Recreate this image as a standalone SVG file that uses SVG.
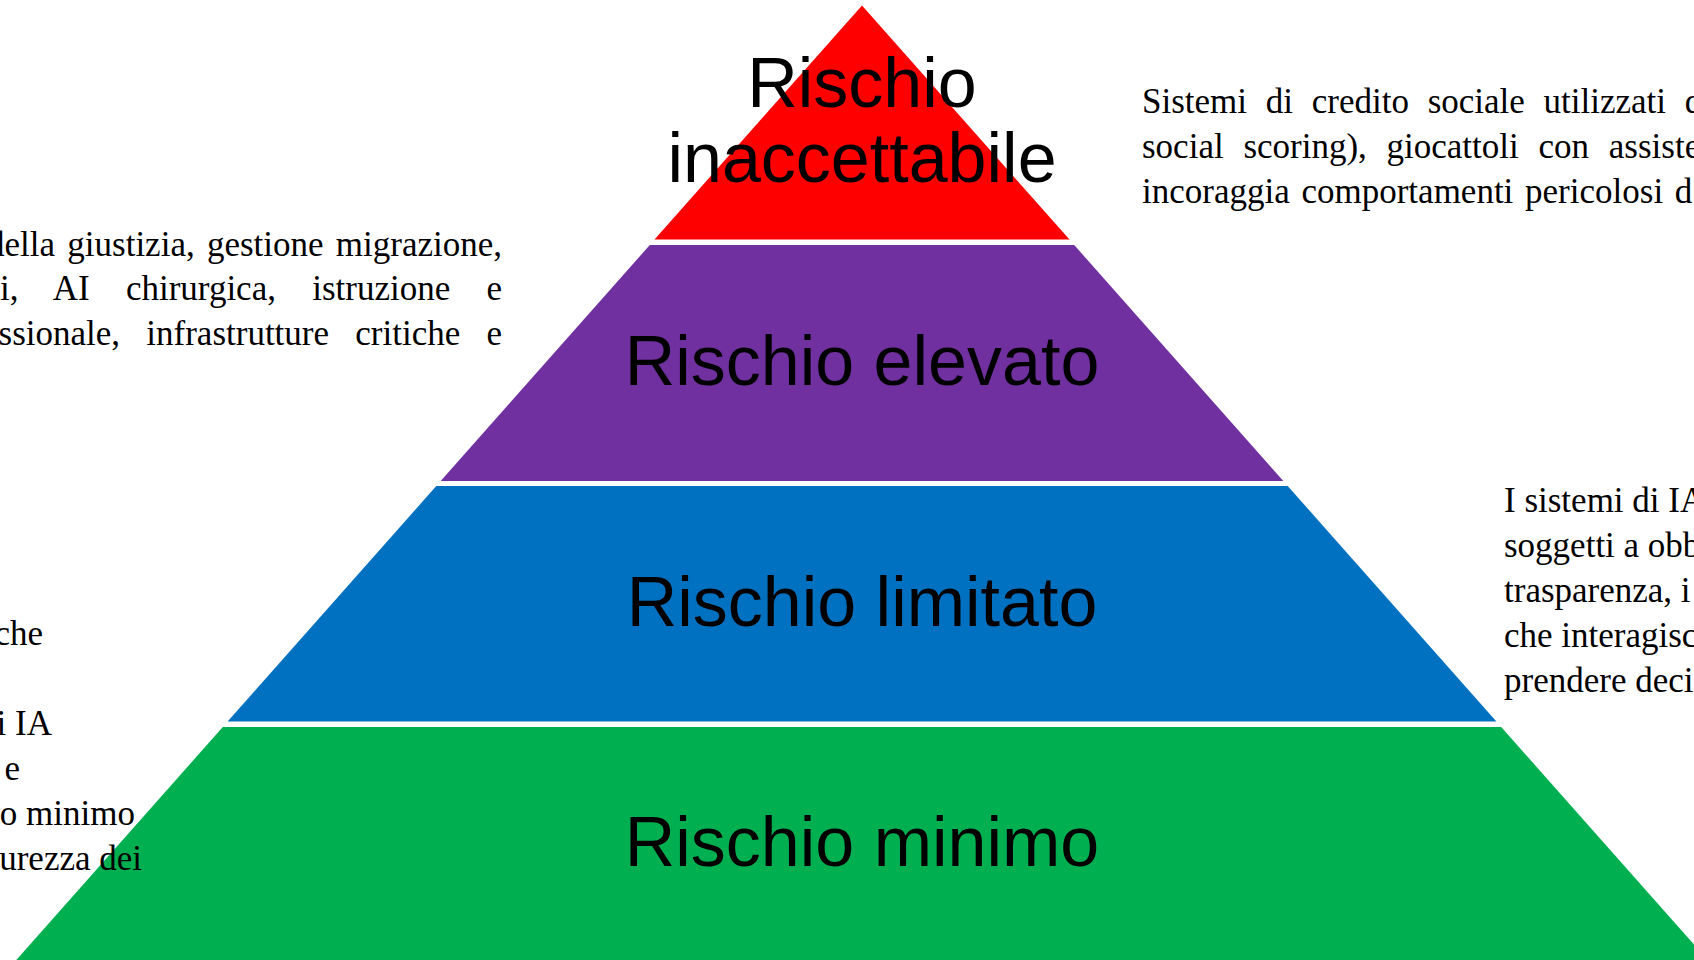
<svg xmlns="http://www.w3.org/2000/svg" width="1694" height="960" viewBox="0 0 1694 960">
<style>
.lbl{font-family:"Liberation Sans",Arial,sans-serif;font-size:70px;fill:#000;text-anchor:middle}
.txt{font-family:"Liberation Serif","Times New Roman",serif;font-size:35px;fill:#000}
.end{text-anchor:end}
</style>
<rect width="1694" height="960" fill="#fff"/>
<g id="pyramid">
<g id="tier-inaccettabile"><polygon points="862,5.5 1069.5,239.5 654.5,239.5" fill="#FF0000"/></g>
<g id="tier-elevato"><polygon points="649.8,245 1074.2,245 1283.3,481 440.7,481" fill="#7030A0"/></g>
<g id="tier-limitato"><polygon points="436.3,486 1287.7,486 1496.4,721.5 227.6,721.5" fill="#0070C0"/></g>
<g id="tier-minimo"><polygon points="222.8,727 1501.2,727 1707.7,960 16.3,960" fill="#00B050"/></g>
</g>
<g id="labels">
<text class="lbl" x="862" y="107">Rischio</text>
<text class="lbl" x="862" y="182">inaccettabile</text>
<text class="lbl" x="862" y="385">Rischio elevato</text>
<text class="lbl" x="862" y="626">Rischio limitato</text>
<text class="lbl" x="862" y="866">Rischio minimo</text>
</g>
<g id="text-inaccettabile">
<text class="txt" x="1142" y="113" word-spacing="10">Sistemi di credito sociale utilizzati d</text>
<text class="txt" x="1142" y="158" word-spacing="11">social scoring), giocattoli con assiste</text>
<text class="txt" x="1142" y="203" word-spacing="3">incoraggia comportamenti pericolosi d</text>
</g>
<g id="text-elevato">
<text class="txt end" x="502" y="256" word-spacing="3.5">della giustizia, gestione migrazione,</text>
<text class="txt end" x="502" y="300" word-spacing="27.5">i, AI chirurgica, istruzione e</text>
<text class="txt end" x="502" y="345" word-spacing="17.5">ssionale, infrastrutture critiche e</text>
</g>
<g id="text-limitato">
<text class="txt" x="1504" y="512">I sistemi di IA</text>
<text class="txt" x="1504" y="557">soggetti a obb</text>
<text class="txt" x="1504" y="602">trasparenza, i</text>
<text class="txt" x="1504" y="647">che interagisc</text>
<text class="txt" x="1504" y="692">prendere deci</text>
</g>
<g id="text-minimo">
<text class="txt end" x="43" y="645">che</text>
<text class="txt end" x="52" y="735">i IA</text>
<text class="txt end" x="20" y="780">e</text>
<text class="txt end" x="135" y="825">o minimo</text>
<text class="txt end" x="142" y="870">urezza dei</text>
</g>
</svg>
